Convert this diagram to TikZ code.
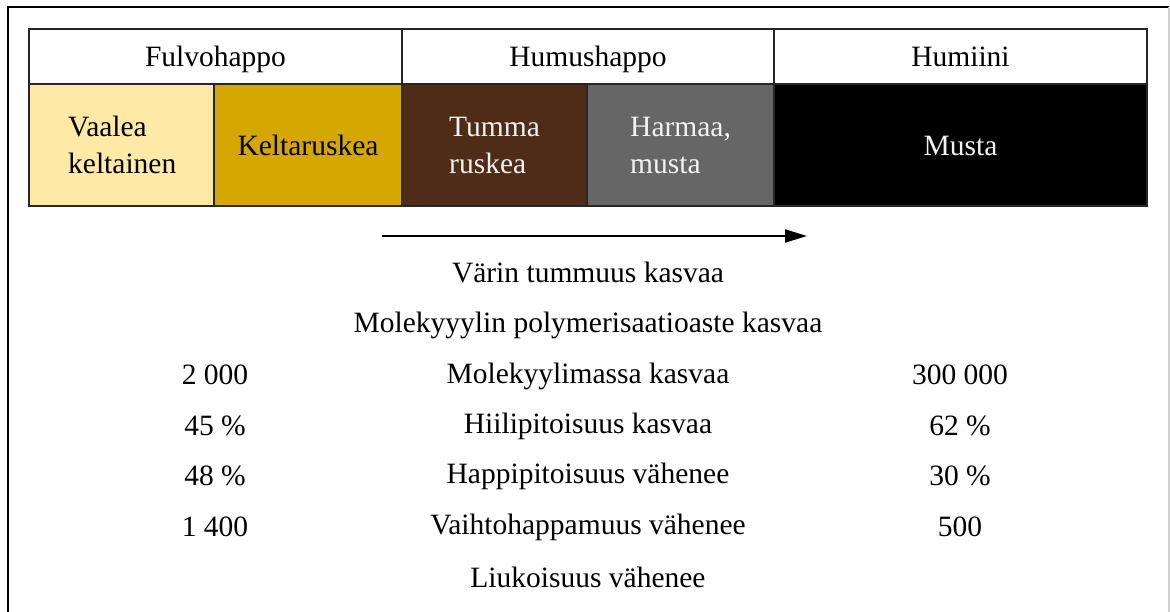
\documentclass[tikz,border=0pt]{standalone}
\usepackage{fontspec}
\setmainfont{Liberation Serif}
\usetikzlibrary{arrows.meta}
\definecolor{paleyellow}{HTML}{FFE9A6}
\definecolor{ochre}{HTML}{D4A800}
\definecolor{darkbrown}{HTML}{4E2C18}
\definecolor{slategrey}{HTML}{666666}
\definecolor{framegrey}{HTML}{D0D0D0}
\definecolor{softwhite}{HTML}{F2F2F2}
\begin{document}
\begin{tikzpicture}[x=1pt,y=-1pt,
  txt/.style={inner sep=0pt, font=\fontsize{29.5}{37}\selectfont},
  cell/.style={txt, draw=black!85, line width=1.4pt, minimum height=#1, anchor=center},
  lbl/.style={txt, align=center, anchor=base},
  ltxt/.style={txt, align=left, anchor=base west},
]
\useasboundingbox (0,0) rectangle (1170,612);
% page frame
\draw[line width=2pt] (8,612) -- (8,7) -- (1169,7);
\draw[framegrey, line width=1.5pt] (1169,7) -- (1169,612);

% colour swatches (second row)
\node[cell=122pt, minimum width=185pt, fill=paleyellow]  (c1) at (121.5,145) {};
\node[cell=122pt, minimum width=188pt, fill=ochre]       (c2) at (308,145) {};
\node[cell=122pt, minimum width=185pt, fill=darkbrown]   (c3) at (494.5,145) {};
\node[cell=122pt, minimum width=187pt, fill=slategrey]   (c4) at (680.5,145) {};
\node[cell=122pt, minimum width=373pt, fill=black]       (c5) at (960.5,145) {};
% group headers (first row)
\node[cell=55pt, minimum width=373pt, fill=white] (h1) at (215.5,56.5) {};
\node[cell=55pt, minimum width=372pt, fill=white] (h2) at (588,56.5) {};
\node[cell=55pt, minimum width=373pt, fill=white] (h3) at (960.5,56.5) {};
\node[lbl] (h1t) at (215.5,67) {Fulvohappo};
\node[lbl] (h2t) at (588,67) {Humushappo};
\node[lbl] (h3t) at (960.5,67) {Humiini};

% swatch labels (two-line labels are anchored on their last line)
\node[ltxt] (t1) at (68,174) {Vaalea\\keltainen};
\node[lbl] (t2) at (308,156) {Keltaruskea};
\node[ltxt, text=softwhite] (t3) at (449,174) {Tumma\\ruskea};
\node[ltxt, text=softwhite] (t4) at (630,174) {Harmaa,\\musta};
\node[lbl, text=softwhite] (t5) at (960.5,156) {Musta};

% direction arrow
\coordinate (arrS) at (382,236);
\coordinate (arrE) at (807,236);
\draw[line width=2pt, -{Triangle[length=22pt,width=13pt]}] (arrS) -- (arrE);

% property rows
\node[lbl] (r1) at (588,283) {Värin tummuus kasvaa};
\node[lbl] (r2) at (588,332) {Molekyyylin polymerisaatioaste kasvaa};
\node[lbl] (r3) at (588,383) {Molekyylimassa kasvaa};
\node[lbl] (r4) at (588,433) {Hiilipitoisuus kasvaa};
\node[lbl] (r5) at (588,483) {Happipitoisuus vähenee};
\node[lbl] (r6) at (588,534) {Vaihtohappamuus vähenee};
\node[lbl] (r7) at (588,587) {Liukoisuus vähenee};

\node[lbl] (l3) at (215,384) {2 000};
\node[lbl] (l4) at (215,435) {45 \%};
\node[lbl] (l5) at (215,485) {48 \%};
\node[lbl] (l6) at (215,536) {1 400};

\node[lbl] (v3) at (960,384) {300 000};
\node[lbl] (v4) at (960,435) {62 \%};
\node[lbl] (v5) at (960,485) {30 \%};
\node[lbl] (v6) at (960,536) {500};
\end{tikzpicture}
\end{document}
